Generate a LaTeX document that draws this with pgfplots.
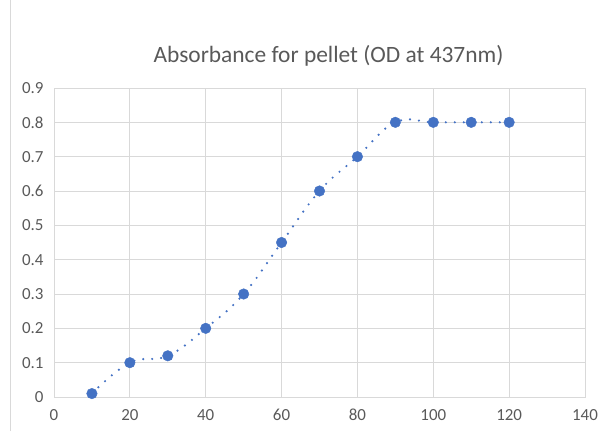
\documentclass[border=0pt]{standalone}
\usepackage{pgfplots}
\pgfplotsset{compat=1.18}
\usepackage{fontspec}
\setmainfont{Carlito}
\definecolor{txt}{HTML}{595959}
\definecolor{gridc}{HTML}{D9D9D9}
\definecolor{ser}{HTML}{4472C4}
\begin{document}
\begin{tikzpicture}[x=1bp,y=1bp]
\path[use as bounding box] (0,0) rectangle (601,431);
\draw[gridc, line width=0.8bp] (10,0) -- (10,431);
\begin{axis}[
  at={(54bp,34bp)}, anchor=south west,
  scale only axis, width=531bp, height=309bp,
  xmin=0, xmax=140, ymin=0, ymax=0.9,
  xtick={0,20,...,140},
  ytick={0,0.1,...,0.9},
  yticklabels={0,0.1,0.2,0.3,0.4,0.5,0.6,0.7,0.8,0.9},
  xmajorgrids, ymajorgrids,
  grid style={gridc, line width=0.9bp},
  axis line style={gridc, line width=0.9bp},
  major tick length=0pt,
  tick label style={font=\fontsize{17}{19}\selectfont, text=txt},
  /pgf/number format/assume math mode=true,
  xticklabel style={yshift=-9bp, text height=11bp},
  yticklabel style={xshift=-7bp},
  title={Absorbance for pellet (OD at 437nm)},
  title style={font=\fontsize{23.5}{26}\selectfont, text=txt, at={(0.5,1)}, xshift=9bp, yshift=20bp, anchor=base},
  clip=false,
]
\addplot[ser, line width=2.4bp, line cap=round, dash pattern=on 0pt off 9bp, smooth, tension=0.7] coordinates {
(10,0.01) (20,0.10) (30,0.12) (40,0.20) (50,0.30) (60,0.45) (70,0.60) (80,0.70) (90,0.80) (100,0.80) (110,0.80) (120,0.80)};
\addplot[only marks, mark=*, mark size=5.3bp, mark options={fill=ser, draw=ser}] coordinates {
(10,0.01) (20,0.10) (30,0.12) (40,0.20) (50,0.30) (60,0.45) (70,0.60) (80,0.70) (90,0.80) (100,0.80) (110,0.80) (120,0.80)};
\end{axis}
\end{tikzpicture}
\end{document}
